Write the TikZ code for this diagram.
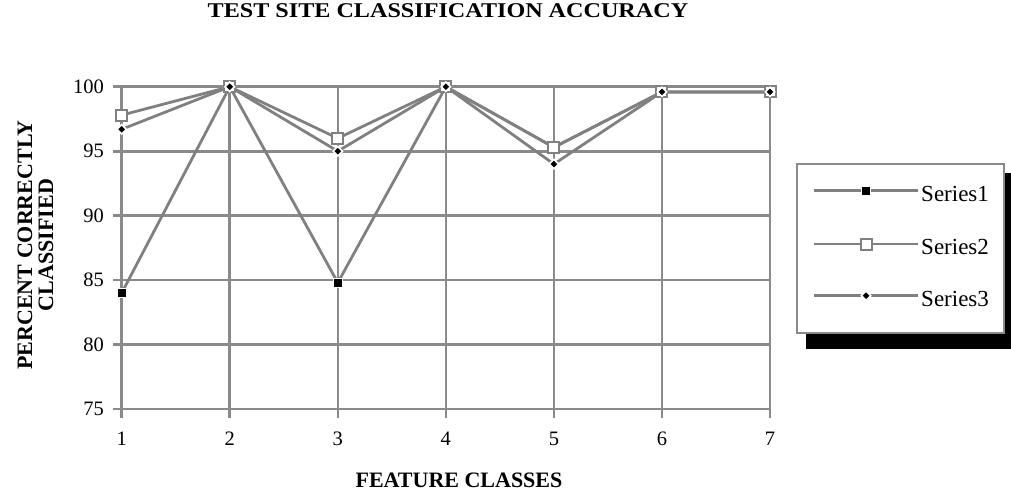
\documentclass[tikz,border=0pt]{standalone}
\usepackage{fontspec}
\setmainfont{Liberation Serif}
\newfontfamily\headfont[FakeStretch=1.15]{Liberation Serif}
\usetikzlibrary{shapes.geometric}
\definecolor{gridgray}{RGB}{138,138,138}
\definecolor{linegray}{RGB}{128,128,128}
\tikzset{gridline/.style={draw=gridgray, line width=2.6pt}, seriesline/.style={draw=linegray, line width=2.8pt, line join=round}, markone/.style={rectangle, fill=black, draw=white, line width=1.2pt, minimum size=9pt, inner sep=0pt}, marktwo/.style={rectangle, fill=white, draw=linegray, line width=2pt, minimum size=11pt, inner sep=0pt}, markthree/.style={diamond, fill=black, draw=white, line width=1.6pt, minimum size=10pt, inner sep=0pt}, ticklabel/.style={font=\fontsize{20.5}{22}\selectfont, inner sep=0pt}, axistitle/.style={font=\fontsize{22}{21}\selectfont\bfseries, align=center, inner sep=0pt}}

\begin{document}
\begin{tikzpicture}[x=1pt, y=-1pt]
\useasboundingbox (0,0) rectangle (1011,493);
\node[font=\headfont\fontsize{21}{24}\selectfont\bfseries, anchor=base, inner sep=0pt] (title) at (448,17.3) {TEST SITE CLASSIFICATION ACCURACY};
\node[axistitle, anchor=base] (xtitle) at (459,487.3) {FEATURE CLASSES};
\node[axistitle, rotate=90, anchor=south] (ytitle) at (53.5,245) {PERCENT CORRECTLY\\CLASSIFIED};
% plot area: one unit per class, one unit per percent above 75
\begin{scope}[shift={(121.7,409)}, x=108.05pt, y=12.89pt]
\foreach \v in {0,5,...,25} {\draw[gridline] ([xshift=-9pt]0,\v) -- (6,\v);}
\foreach \c in {0,...,6} {\draw[gridline] (\c,25) -- ([yshift=-8.5pt]\c,0);}
\foreach \v/\lab in {0/75,5/80,10/85,15/90,20/95,25/100} {\node[ticklabel, anchor=east] (yt\lab) at ([xshift=-17.7pt]0,\v) {\lab};}
\foreach \c/\lab in {0/1,1/2,2/3,3/4,4/5,5/6,6/7} {\node[ticklabel] (xt\lab) at ([yshift=-29.7pt]\c,0) {\lab};}
\foreach \v [count=\c from 0] in {84,100,84.8,100,95.3,99.6,99.6} {\coordinate (a\c) at (\c,\v-75);}
\foreach \v [count=\c from 0] in {97.8,100,96,100,95.3,99.6,99.6} {\coordinate (b\c) at (\c,\v-75);}
\foreach \v [count=\c from 0] in {96.7,100,95,100,94,99.6,99.6} {\coordinate (d\c) at (\c,\v-75);}
\draw[seriesline] (a0) \foreach \c in {1,...,6} {-- (a\c)};
\draw[seriesline] (b0) \foreach \c in {1,...,6} {-- (b\c)};
\draw[seriesline] (d0) \foreach \c in {1,...,6} {-- (d\c)};
\foreach \c in {0,...,6} {\node[markone] (ma\c) at (a\c) {};}
\foreach \c in {0,...,6} {\node[marktwo] (mb\c) at (b\c) {};}
\foreach \c in {0,...,6} {\node[markthree] (md\c) at (d\c) {};}
\end{scope}
% legend with drop shadow
\fill[black] (806,173) rectangle (1011,349);
\node[draw=gridgray, line width=2pt, fill=white, minimum width=207pt, minimum height=169pt, anchor=north west, inner sep=0pt] (legend) at (796,163) {};
\foreach \y/\name/\mk in {190.7/Series1/markone,244/Series2/marktwo,295.7/Series3/markthree} {
  \coordinate (\name l) at (814,\y);
  \coordinate (\name r) at (918,\y);
  \draw[seriesline] (\name l) -- (\name r);
  \node[\mk] (\name m) at (866,\y) {};
  \node[font=\fontsize{23}{25}\selectfont, anchor=base west, inner sep=0pt] (\name t) at (921,\y+10.3) {\name};
}
\end{tikzpicture}
\end{document}
